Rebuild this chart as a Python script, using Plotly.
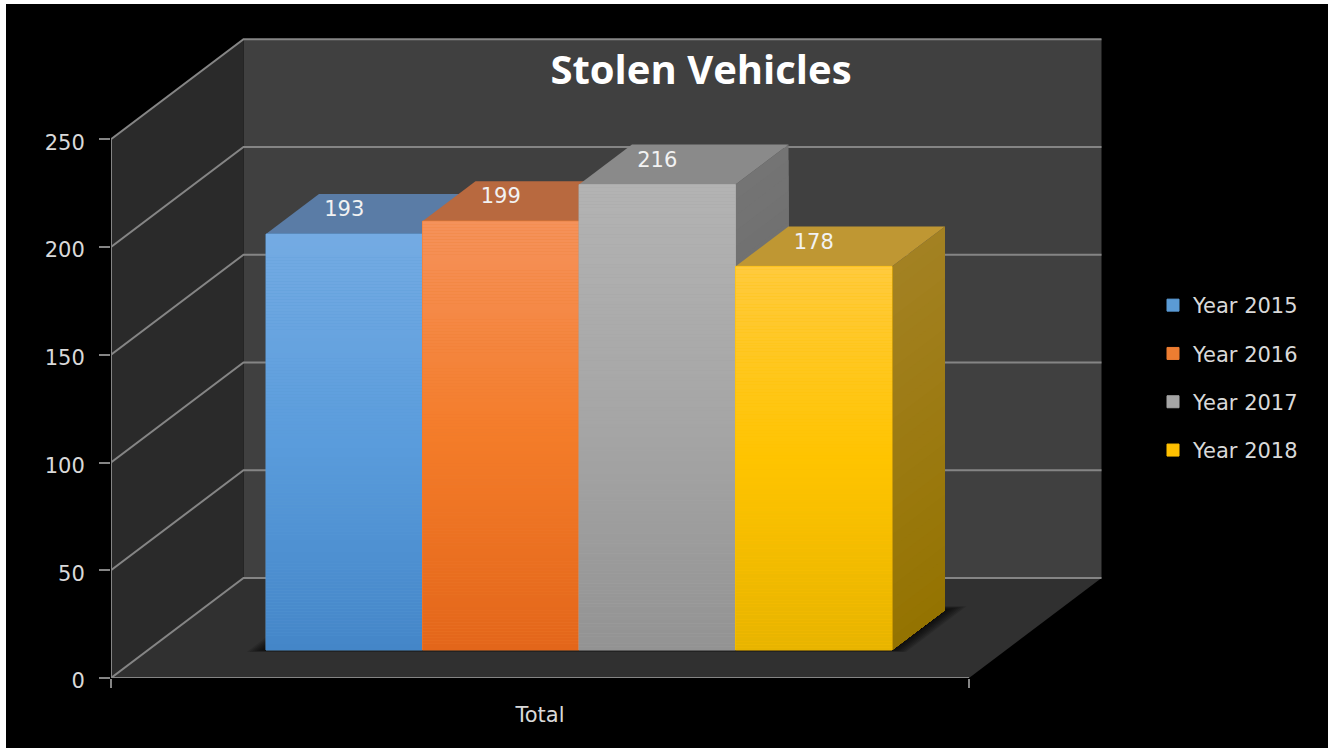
import plotly.graph_objects as go

# ---- data ----
TITLE = "Stolen Vehicles"
CATEGORY = "Total"
SERIES = ["Year 2015", "Year 2016", "Year 2017", "Year 2018"]
VALUES = [193, 199, 216, 178]
Y_TICKS = [0, 50, 100, 150, 200, 250]
LEGEND_COLORS = ["#5B9BD5", "#ED7D31", "#A5A5A5", "#FFC000"]
FRONT_TOP = ["#74ABE3", "#F5925B", "#B3B3B3", "#FFCA3E"]
FRONT_MID = ["#5A9CDC", "#F47C29", "#A6A6A6", "#FFC400"]
FRONT_BOTTOM = ["#4486C8", "#E3661A", "#939393", "#E7B400"]
TOP_FACE = ["#5A7CA6", "#B8693F", "#8A8A8A", "#BF9733"]
SIDE_TOP = ["#4A6E96", "#A35A30", "#747474", "#A38122"]
SIDE_BOTTOM = ["#34587E", "#80461F", "#606060", "#947300"]

# ---- layout constants of the pseudo-3D box ----
W, H = 1328, 748
LEFT, ZERO_PX = 111, 678
X_UNIT = 858.0          # px per category width
Y_UNIT = 2.155          # px per value unit
DX = 132.5 / X_UNIT     # horizontal shift of full depth, category units
DV = 100 / Y_UNIT       # vertical shift of full depth, value units
D0, D1 = 0.28, 0.68     # depth span of the bars
BAR_X0 = 0.1374
BAR_W = 0.1824
VMAX = 250
TEXT_FONT = "DejaVu Sans"
TEXT_SIZE = 21


def px(x, v, d=0.0):
    return x + d * DX, v + d * DV


def path(points):
    return "M" + " L".join(f"{a:.5f},{b:.5f}" for a, b in points) + " Z"


def hex_rgb(c):
    return tuple(int(c[i:i + 2], 16) for i in (1, 3, 5))


def mix(c1, c2, t):
    a, b = hex_rgb(c1), hex_rgb(c2)
    return "rgb(%d,%d,%d)" % tuple(round(p + (q - p) * t) for p, q in zip(a, b))


def paper_rect(x0, y0, x1, y1):
    pw, ph = W - LEFT, ZERO_PX
    return dict(type="rect", xref="paper", yref="paper", layer="below", line_width=0,
                x0=(x0 - LEFT) / pw, x1=(x1 - LEFT) / pw,
                y0=(ZERO_PX - y0) / ph, y1=(ZERO_PX - y1) / ph, fillcolor="#000000")


GRID = "#858585"
shapes = [paper_rect(6, 4, W, H)]
poly = lambda pts, col: dict(type="path", xref="x", yref="y", layer="below", path=path(pts),
                             fillcolor=col, line_width=0)
shapes.append(poly([px(0, 0, 1), px(1, 0, 1), px(1, VMAX, 1), px(0, VMAX, 1)], "#404040"))
shapes.append(poly([px(0, 0, 0), px(0, 0, 1), px(0, VMAX, 1), px(0, VMAX, 0)], "#2A2A2A"))
shapes.append(poly([px(0, 0, 0), px(1, 0, 0), px(1, 0, 1), px(0, 0, 1)], "#303030"))

# floor shadow: stacked translucent outlines of the bar block
x_end = BAR_X0 + BAR_W * len(VALUES)
for k in range(1, 9):
    ex = 0.0024 * k
    ed = 0.012 * k
    shapes.append(poly([px(BAR_X0 - ex, 0, D0 - ed * 0.2), px(x_end + ex, 0, D0 - ed * 0.2),
                        px(x_end + ex, 0, D1 + ed * 0.4), px(BAR_X0 - ex, 0, D1 + ed * 0.4)],
                       "rgba(0,0,0,0.12)"))

traces = []

# gridlines across left and back walls
for t in Y_TICKS:
    a, b, c = px(0, t, 0), px(0, t, 1), px(1, t, 1)
    traces.append(go.Scatter(x=[a[0], b[0], c[0]], y=[a[1], b[1], c[1]], mode="lines",
                             line=dict(color=GRID, width=2), showlegend=False,
                             hoverinfo="skip", zorder=1))

for i, (name, v) in enumerate(zip(SERIES, VALUES)):
    x0 = BAR_X0 + i * BAR_W
    x1 = x0 + BAR_W
    xc = x0 + BAR_W / 2 + D0 * DX
    z = 10 + 10 * i
    # side face, painted from the tallest strip to the shortest
    n_side = 30
    for s in range(n_side):
        top = v * (1 - s / n_side)
        pts = [px(x1, 0, D0), px(x1, 0, D1), px(x1, top, D1), px(x1, top, D0)]
        traces.append(go.Scatter(x=[p[0] for p in pts], y=[p[1] for p in pts], mode="lines",
                                 fill="toself", fillcolor=mix(SIDE_TOP[i], SIDE_BOTTOM[i], s / n_side),
                                 line=dict(width=0), showlegend=False, hoverinfo="skip", zorder=z))
    # top face
    pts = [px(x0, v, D0), px(x1, v, D0), px(x1, v, D1), px(x0, v, D1)]
    traces.append(go.Scatter(x=[p[0] for p in pts], y=[p[1] for p in pts], mode="lines",
                             fill="toself", fillcolor=TOP_FACE[i], line=dict(width=0),
                             showlegend=False, hoverinfo="skip", zorder=z + 1))
    # front face: the real bar
    base = D0 * DV
    traces.append(go.Bar(x=[xc], y=[v], base=[base], width=BAR_W, name=name,
                         marker=dict(color=LEGEND_COLORS[i], line=dict(width=1, color=LEGEND_COLORS[i])),
                         legendgroup=name, hoverinfo="skip", zorder=z + 2))
    # vertical gradient painted over it
    n = 140
    h = v / n
    cols = []
    for s in range(n):
        t = 1 - (s + 0.5) / n   # 0 at top, 1 at bottom
        if t < 0.5:
            cols.append(mix(FRONT_TOP[i], FRONT_MID[i], t / 0.5))
        else:
            cols.append(mix(FRONT_MID[i], FRONT_BOTTOM[i], (t - 0.5) / 0.5))
    traces.append(go.Bar(x=[xc] * n, y=[h] * n, base=[base + s * h for s in range(n)], width=BAR_W,
                         marker=dict(color=cols, line_width=0), showlegend=False,
                         hoverinfo="skip", zorder=z + 3))

# data labels sit on the top faces
lab_x = [BAR_X0 + (i + 0.5) * BAR_W + D0 * DX for i in range(len(VALUES))]
lab_y = [v + 0.51 * DV for v in VALUES]
traces.append(go.Scatter(x=lab_x, y=lab_y, mode="text", text=[str(v) for v in VALUES],
                         textposition="middle center",
                         textfont=dict(color="#F2F2F2", size=TEXT_SIZE, family=TEXT_FONT),
                         showlegend=False, hoverinfo="skip", zorder=100))
# axis lines
traces.append(go.Scatter(x=[0, 0, 1], y=[VMAX, 0, 0], mode="lines", cliponaxis=False,
                         line=dict(color="#858585", width=2), showlegend=False,
                         hoverinfo="skip", zorder=101))

fig = go.Figure(traces)
fig.update_layout(
    width=W, height=H,
    margin=dict(l=LEFT, r=0, t=0, b=H - ZERO_PX, pad=0),
    paper_bgcolor="#FFFFFF", plot_bgcolor="rgba(0,0,0,0)",
    barmode="overlay", shapes=shapes,
    font=dict(family=TEXT_FONT, color="#D9D9D9", size=TEXT_SIZE),
    title=dict(text=f"<b>{TITLE}</b>", x=701 / W, xanchor="center", y=1 - 70 / H, yanchor="middle",
               font=dict(family="Open Sans", size=40, color="#FFFFFF")),
    legend=dict(x=(1153 - LEFT) / (W - LEFT), xanchor="left", y=(ZERO_PX - 285) / ZERO_PX, yanchor="top",
                tracegroupgap=18, font=dict(size=TEXT_SIZE, color="#D9D9D9", family=TEXT_FONT),
                bgcolor="rgba(0,0,0,0)", traceorder="grouped"),
    xaxis=dict(range=[0, (W - LEFT) / X_UNIT], showgrid=False, zeroline=False, showline=False,
               tickvals=[0.5], ticktext=[CATEGORY], ticks="", ticklabelstandoff=22,
               tickfont=dict(size=TEXT_SIZE, color="#D9D9D9", family=TEXT_FONT),
               minor=dict(tickvals=[0, 1], ticks="outside", ticklen=9, tickwidth=2, tickcolor="#858585")),
    yaxis=dict(range=[0, ZERO_PX / Y_UNIT], showgrid=False, zeroline=False, showline=False,
               tickvals=Y_TICKS, ticks="outside", ticklen=11, tickwidth=2, tickcolor="#858585",
               ticklabelstandoff=10, ticklabelshift=3,
               tickfont=dict(size=TEXT_SIZE, color="#D9D9D9", family=TEXT_FONT)),
)
fig.write_html("out.html", config={"displayModeBar": False},
               post_script="document.body.style.margin='0';document.documentElement.style.overflow='hidden';")
